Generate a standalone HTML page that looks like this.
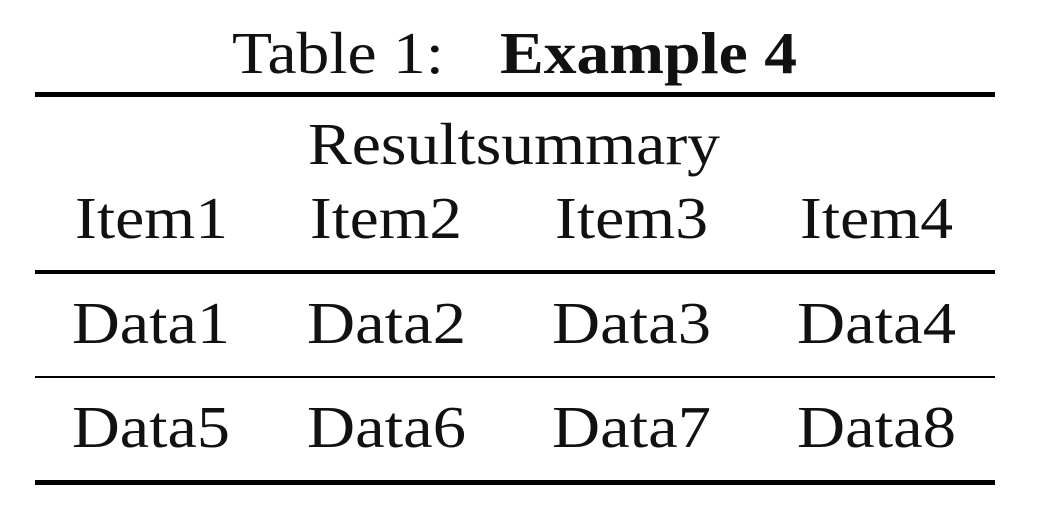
<!DOCTYPE html>
<html><head><style>html,body{margin:0;padding:0;background:#fff;width:1046px;height:508px;overflow:hidden}</style></head>
<body>
<svg width="1046" height="508" xmlns="http://www.w3.org/2000/svg" font-family="Liberation Serif, serif" font-size="59" fill="#111">
<text x="232" y="73" textLength="212" lengthAdjust="spacingAndGlyphs">Table 1:</text>
<text x="500" y="73" font-weight="bold" textLength="297" lengthAdjust="spacingAndGlyphs">Example 4</text>
<rect x="35" y="92" width="960" height="5" fill="#000"/>
<text x="308" y="164" textLength="412" lengthAdjust="spacingAndGlyphs">Resultsummary</text>
<text x="75" y="238" textLength="153" lengthAdjust="spacingAndGlyphs">Item1</text>
<text x="310" y="238" textLength="152" lengthAdjust="spacingAndGlyphs">Item2</text>
<text x="555" y="238" textLength="153" lengthAdjust="spacingAndGlyphs">Item3</text>
<text x="800" y="238" textLength="153" lengthAdjust="spacingAndGlyphs">Item4</text>
<rect x="35" y="270" width="960" height="4" fill="#000"/>
<text x="72" y="343" textLength="158" lengthAdjust="spacingAndGlyphs">Data1</text>
<text x="307" y="343" textLength="159" lengthAdjust="spacingAndGlyphs">Data2</text>
<text x="552" y="343" textLength="159" lengthAdjust="spacingAndGlyphs">Data3</text>
<text x="797" y="343" textLength="159" lengthAdjust="spacingAndGlyphs">Data4</text>
<rect x="35" y="376" width="960" height="2" fill="#000"/>
<text x="72" y="447" textLength="158" lengthAdjust="spacingAndGlyphs">Data5</text>
<text x="307" y="447" textLength="159" lengthAdjust="spacingAndGlyphs">Data6</text>
<text x="552" y="447" textLength="159" lengthAdjust="spacingAndGlyphs">Data7</text>
<text x="797" y="447" textLength="159" lengthAdjust="spacingAndGlyphs">Data8</text>
<rect x="35" y="480" width="960" height="5" fill="#000"/>
</svg>
</body></html>
